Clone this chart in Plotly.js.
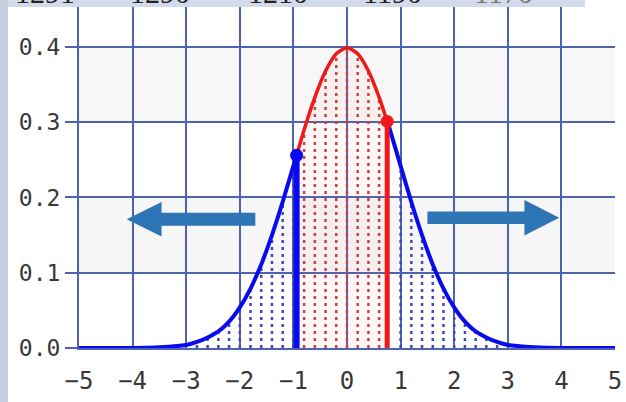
<!DOCTYPE html>
<html>
<head>
<meta charset="utf-8">
<script src="https://cdn.plot.ly/plotly-3.0.1.min.js"></script>
<style>
  body { margin: 0; background: #ffffff; }
  #graph { width: 626px; height: 402px; }
</style>
</head>
<body>
<div id="graph"></div>
<script>
// curve, split where the colour changes
var leftX = [-5, -4.5, -4, -3.5, -3, -2.8, -2.6, -2.4, -2.2, -2, -1.8, -1.6, -1.4, -1.2, -1, -0.94];
var leftY = [0, 0, 0, 0.001, 0.004, 0.008, 0.014, 0.022, 0.035, 0.054, 0.079, 0.111, 0.15, 0.194, 0.242, 0.256];
var midX = [-0.94, -0.8, -0.6, -0.4, -0.2, 0, 0.2, 0.4, 0.6, 0.75];
var midY = [0.256, 0.29, 0.333, 0.368, 0.391, 0.399, 0.391, 0.368, 0.333, 0.301];
var rightX = [0.75, 0.8, 1, 1.2, 1.4, 1.6, 1.8, 2, 2.2, 2.4, 2.6, 2.8, 3, 3.5, 4, 4.5, 5];
var rightY = [0.301, 0.29, 0.242, 0.194, 0.15, 0.111, 0.079, 0.054, 0.035, 0.022, 0.014, 0.008, 0.004, 0.001, 0, 0, 0];

// the two cut points (thick vertical lines + dots)
var cutX = [-0.94, 0.75];
var cutY = [0.256, 0.301];

// dotted hatching under the curve
var blueHatchX = [-2.8, -2.6, -2.4, -2.2, -2, -1.8, -1.6, -1.4, -1.2, -1, 1, 1.2, 1.4, 1.6, 1.8, 2, 2.2, 2.4, 2.6, 2.8];
var blueHatchY = [0.008, 0.014, 0.022, 0.035, 0.054, 0.079, 0.111, 0.15, 0.194, 0.242, 0.242, 0.194, 0.15, 0.111, 0.079, 0.054, 0.035, 0.022, 0.014, 0.008];
var redHatchX = [-0.8, -0.6, -0.4, -0.2, 0, 0.2, 0.4, 0.6];
var redHatchY = [0.29, 0.333, 0.368, 0.391, 0.399, 0.391, 0.368, 0.333];

var xTicks = [-5, -4, -3, -2, -1, 0, 1, 2, 3, 4, 5];
var xTickText = ["\u22125", "\u22124", "\u22123", "\u22122", "\u22121", "0", "1", "2", "3", "4", "5"];
var yTicks = [0, 0.1, 0.2, 0.3, 0.4];
var yTickText = ["0.0", "0.1", "0.2", "0.3", "0.4"];

// numbers cut off at the top edge of the picture
var topLabels = ["1291", "1290", "1210", "1190", "1170"];

var gridColor = "#4d62b0";
var arrowColor = "#2e75b6";

function hatch(xs, ys) {
  var hx = [], hy = [];
  for (var i = 0; i < xs.length; i++) {
    hx.push(xs[i], xs[i], null);
    hy.push(0, ys[i], null);
  }
  return [hx, hy];
}

var bh = hatch(blueHatchX, blueHatchY);
var rh = hatch(redHatchX, redHatchY);

var traces = [
  {
    x: midX, y: midY, mode: "lines", fill: "tozeroy",
    fillcolor: "rgba(255,90,90,0.05)", line: { width: 0, shape: "spline" },
    hoverinfo: "skip",
  },
  {
    x: bh[0], y: bh[1], mode: "lines",
    line: { color: "#4646b8", width: 2.5, dash: "3px,4px" },
  },
  {
    x: rh[0], y: rh[1], mode: "lines",
    line: { color: "#c44444", width: 2.5, dash: "3px,4px" },
  },
  {
    x: leftX, y: leftY, mode: "lines",
    line: { color: "#0a0aee", width: 4, shape: "spline", smoothing: 0.6 },
  },
  {
    x: rightX, y: rightY, mode: "lines",
    line: { color: "#0a0aee", width: 4, shape: "spline", smoothing: 0.6 },
  },
  {
    x: midX, y: midY, mode: "lines",
    line: { color: "#f01818", width: 3.5, shape: "spline", smoothing: 0.6 },
  },
  {
    x: [cutX[0], cutX[0]], y: [0, cutY[0]], mode: "lines",
    line: { color: "#0a0aee", width: 6 },
  },
  {
    x: [cutX[1], cutX[1]], y: [0, cutY[1]], mode: "lines",
    line: { color: "#f01818", width: 5 },
  },
  {
    x: [cutX[0]], y: [cutY[0]], mode: "markers",
    marker: { color: "#0a0aee", size: 13 },
  },
  {
    x: [cutX[1]], y: [cutY[1]], mode: "markers",
    marker: { color: "#f01818", size: 13 },
  },
];

function arrowPath(tail, base, tip, yc, shaft, head) {
  return "M " + tail + "," + (yc + shaft) +
    " L " + base + "," + (yc + shaft) +
    " L " + base + "," + (yc + head) +
    " L " + tip + "," + yc +
    " L " + base + "," + (yc - head) +
    " L " + base + "," + (yc - shaft) +
    " L " + tail + "," + (yc - shaft) + " Z";
}

var shapes = [
  // pale stripes
  { type: "rect", xref: "paper", yref: "y", x0: 0, x1: 1, y0: 0.3, y1: 0.4, layer: "below",
    fillcolor: "#f8f7f7", line: { width: 0 } },
  { type: "rect", xref: "paper", yref: "y", x0: 0, x1: 1, y0: 0.1, y1: 0.2, layer: "below",
    fillcolor: "#f6f6f7", line: { width: 0 } },
  // grey frame pieces of the screenshot
  { type: "rect", xref: "paper", yref: "paper", x0: -0.1474, x1: -0.1325, y0: -0.16, y1: 1.03,
    fillcolor: "#c6cedf", line: { width: 0 } },
  { type: "rect", xref: "paper", yref: "paper", x0: -0.1325, x1: 0.944, y0: 1.0, y1: 1.03,
    fillcolor: "#d3dae9", line: { width: 0 } },
  // arrows
  { type: "path", xref: "x", yref: "y", fillcolor: arrowColor, line: { width: 0 },
    path: arrowPath(-1.71, -3.46, -4.11, 0.171, 0.0087, 0.0228) },
  { type: "path", xref: "x", yref: "y", fillcolor: arrowColor, line: { width: 0 },
    path: arrowPath(1.5, 3.31, 3.96, 0.173, 0.0082, 0.0235) },
];

var annotations = [];
var labelX = [45, 160, 278, 392, 503];
for (var i = 0; i < topLabels.length; i++) {
  annotations.push({
    text: topLabels[i], xref: "paper", yref: "paper",
    x: (labelX[i] - 79) / 536, y: 1.0, yanchor: "bottom", xanchor: "center",
    yshift: -4, showarrow: false,
    font: { family: "Liberation Serif, DejaVu Serif, serif", size: 30, color: i == 4 ? "#777777" : "#222222" },
  });
}

Plotly.newPlot(
  "graph",
  traces,
  {
    width: 626,
    height: 402,
    margin: { l: 79, r: 11, t: 7, b: 54 },
    paper_bgcolor: "#ffffff",
    plot_bgcolor: "#ffffff",
    showlegend: false,
    xaxis: {
      range: [-5, 5],
      tickvals: xTicks,
      ticktext: xTickText,
      showgrid: true,
      gridcolor: gridColor,
      gridwidth: 2,
      zeroline: false,
      showline: true,
      linecolor: gridColor,
      linewidth: 2,
      ticks: "",
      ticklabelstandoff: 10,
      tickfont: { family: "DejaVu Sans Mono, monospace", size: 24, color: "#383838" },
      fixedrange: true,
    },
    yaxis: {
      range: [0, 0.453],
      tickvals: yTicks,
      ticktext: yTickText,
      showgrid: true,
      gridcolor: gridColor,
      gridwidth: 2,
      zeroline: false,
      showline: true,
      linecolor: gridColor,
      linewidth: 2,
      ticks: "outside",
      ticklen: 12,
      tickwidth: 2,
      tickcolor: gridColor,
      ticklabelstandoff: 0,
      tickfont: { family: "DejaVu Sans Mono, monospace", size: 23, color: "#383838" },
      fixedrange: true,
    },
    shapes: shapes,
    annotations: annotations,
  },
  { displayModeBar: false }
);
</script>
</body>
</html>
